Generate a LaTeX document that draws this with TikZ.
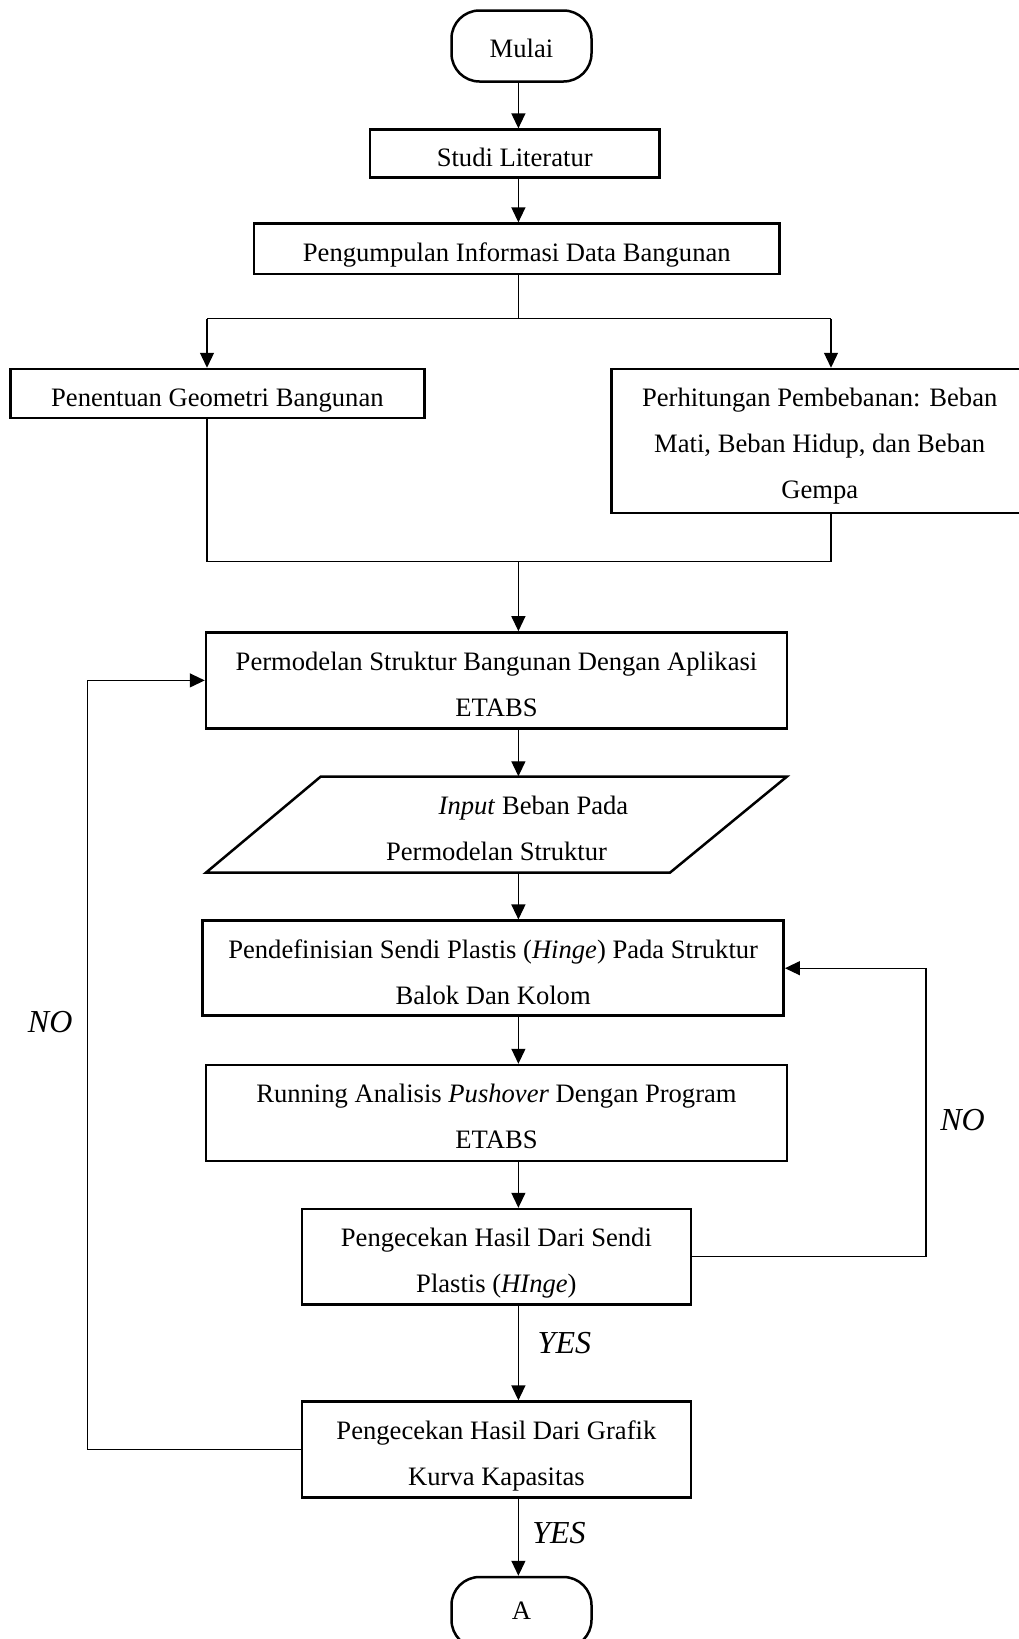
\documentclass[tikz,border=0pt]{standalone}
\usepackage{fontspec}
\setmainfont{Liberation Serif}
\usetikzlibrary{arrows.meta}
\newcommand{\mainfs}{\fontsize{26.6}{46}\selectfont}
\newcommand{\lblfs}{\fontsize{32}{36}\selectfont\itshape}
\newcommand{\tx}[2][-3.5pt]{\raisebox{#1}[\height][\depth]{\begin{tabular}{@{}c@{}}#2\end{tabular}}}
\begin{document}
\begin{tikzpicture}[x=1pt,y=-1pt,
  boxst/.style={draw, line width=2.5pt, align=center, font=\mainfs, inner sep=0pt},
  termst/.style={boxst, rounded corners=28pt},
  conn/.style={line width=1.3pt},
  arr/.style={conn, -{Triangle[length=15pt,width=14pt]}},
  lbl/.style={font=\lblfs, inner sep=0pt}]
\useasboundingbox (0,0) rectangle (1019,1639);
\clip (0,0) rectangle (1019,1639);
\fill[white] (0,0) rectangle (1019,1639);

\coordinate (sp) at (518.4,0);

\node[termst, minimum width=140pt, minimum height=71pt] (mulai) at (521.5,46) {\tx[-2pt]{Mulai}};
\node[boxst, minimum width=289.5pt, minimum height=48pt] (studi) at (514.7,153.6) {\tx{Studi Literatur}};
\node[boxst, minimum width=525.6pt, minimum height=50.2pt] (kumpul) at (516.8,248.7) {\tx{Pengumpulan Informasi Data Bangunan}};
\node[boxst, minimum width=413.8pt, minimum height=49pt] (geom) at (217.4,393.5) {\tx[-4pt]{Penentuan Geometri Bangunan}};
\node[boxst, minimum width=416.6pt, minimum height=144pt] (beban) at (819.7,441) {\tx[-2pt]{Perhitungan Pembebanan: Beban\\Mati, Beban Hidup, dan Beban\\Gempa}};
\node[boxst, minimum width=581pt, minimum height=96pt] (model) at (496.5,680.4) {\tx{Permodelan Struktur Bangunan Dengan Aplikasi\\ETABS}};
\draw[line width=2.5pt, line join=miter] (320.8,776.5) -- (787,776.5) -- (669.9,872.7) -- (205.9,872.7) -- cycle;
\node[align=center, font=\mainfs, inner sep=0pt, minimum width=581pt, minimum height=96.2pt] (par) at (496.5,824.6) {\tx[-4pt]{\hspace*{74pt}\textit{Input} Beban Pada\\Permodelan Struktur}};
\node[boxst, minimum width=581pt, minimum height=95pt] (hinge) at (493.2,968.2) {\tx[-4pt]{Pendefinisian Sendi Plastis (\textit{Hinge}) Pada Struktur\\Balok Dan Kolom}};
\node[boxst, minimum width=581pt, minimum height=96pt] (run) at (496.5,1113) {\tx{Running Analisis \textit{Pushover} Dengan Program\\ETABS}};
\node[boxst, minimum width=388.8pt, minimum height=95.3pt] (cek1) at (496.4,1256.7) {\tx[-4pt]{Pengecekan Hasil Dari Sendi\\Plastis (\textit{HInge})}};
\node[boxst, minimum width=388.8pt, minimum height=96pt] (cek2) at (496.4,1449.6) {\tx{Pengecekan Hasil Dari Grafik\\Kurva Kapasitas}};
\node[termst, minimum width=140pt, minimum height=71pt] (A) at (521.5,1612.5) {\tx[2pt]{A}};

% connectors
\draw[arr] (mulai.south -| sp) -- (studi.north -| sp);
\draw[arr] (studi.south -| sp) -- (kumpul.north -| sp);
\coordinate (s1) at (518.4,318.8);
\coordinate (gl) at (207,318.8);
\coordinate (gr) at (831,318.8);
\draw[conn] (kumpul.south -| sp) -- (s1);
\draw[conn] (gl) -- (gr);
\draw[arr] (gl) -- (geom.north -| gl);
\draw[arr] (gr) -- (beban.north -| gr);
\coordinate (ml) at (207,561.2);
\coordinate (mr) at (831,561.2);
\coordinate (mc) at (518.4,561.2);
\draw[conn] (geom.south -| ml) -- (ml) -- (mr) -- (beban.south -| mr);
\draw[arr] (mc) -- (model.north -| sp);
\draw[arr] (model.south -| sp) -- (par.north -| sp);
\draw[arr] (par.south -| sp) -- (hinge.north -| sp);
\draw[arr] (hinge.south -| sp) -- (run.north -| sp);
\draw[arr] (run.south -| sp) -- (cek1.north -| sp);
\draw[arr] (cek1.south -| sp) -- (cek2.north -| sp);
\draw[arr] (cek2.south -| sp) -- (A.north -| sp);
\coordinate (rx) at (926,1100);
\draw[arr] (cek1.east) -| (rx) |- (hinge.east);
\coordinate (lx) at (87.8,1000);
\draw[arr] (cek2.west) -| (lx) |- (model.west);

% labels
\node[lbl] (no1) at (962.5,1120) {NO};
\node[lbl] (no2) at (50.2,1022) {NO};
\node[lbl] (yes1) at (564.4,1343) {YES};
\node[lbl] (yes2) at (559,1533) {YES};
\end{tikzpicture}
\end{document}
